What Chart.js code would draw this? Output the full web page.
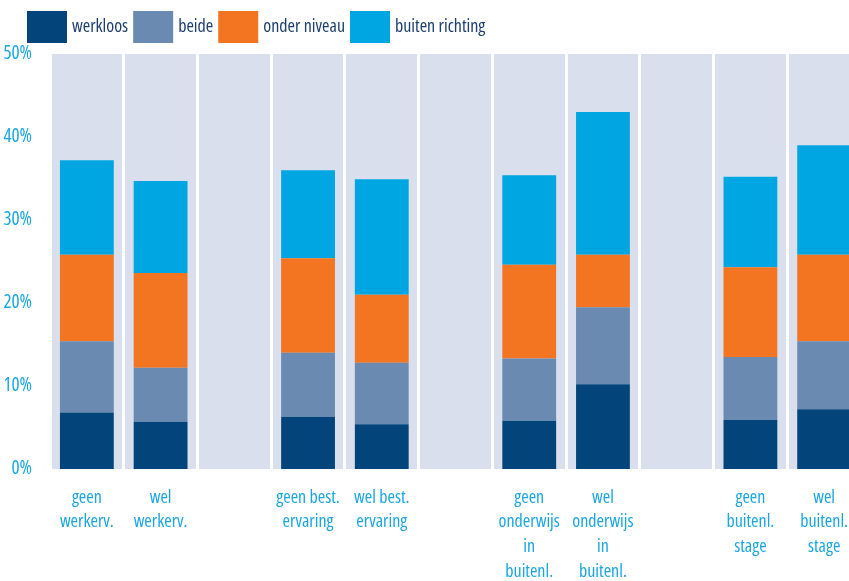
<!DOCTYPE html>
<html>
<head>
<meta charset="utf-8">
<script src="https://cdn.jsdelivr.net/npm/chart.js"></script>
<style>
  html, body { margin: 0; padding: 0; background: #fff; overflow: hidden; }
  /* the last column runs past the right edge, so the canvas is wider than the frame */
  #wrap { width: 849px; height: 581px; overflow: hidden; }
</style>
</head>
<body>
<div id="wrap"><canvas id="myChart" width="861" height="581"></canvas></div>
<script>
// categories (empty strings are the gaps between groups)
const labels = [
  ['geen', 'werkerv.'], ['wel', 'werkerv.'], '',
  ['geen best.', 'ervaring'], ['wel best.', 'ervaring'], '',
  ['geen', 'onderwijs', 'in', 'buitenl.'], ['wel', 'onderwijs', 'in', 'buitenl.'], '',
  ['geen', 'buitenl.', 'stage'], ['wel', 'buitenl.', 'stage']
];

const werkloos       = [6.8, 5.7, null, 6.3, 5.4, null, 5.8, 10.2, null, 5.9, 7.2];
const beide          = [8.6, 6.5, null, 7.7, 7.4, null, 7.5, 9.3, null, 7.6, 8.2];
const onderNiveau    = [10.4, 11.4, null, 11.4, 8.2, null, 11.3, 6.3, null, 10.8, 10.4];
const buitenRichting = [11.4, 11.1, null, 10.6, 13.9, null, 10.8, 17.2, null, 10.9, 13.2];

const yTicks = [0, 10, 20, 30, 40, 50];

// condensed face of Open Sans; 'condensed' rides in the weight slot of the font string
const FAMILY = "'Open Sans', sans-serif";
const STRETCH = 'condensed';
const blueText = '#1ba6e0';

// plot background
const plotBg = {
  id: 'plotBg',
  beforeDraw(chart) {
    const { ctx, chartArea: a } = chart;
    ctx.save();
    ctx.fillStyle = '#d9dfec';
    ctx.fillRect(a.left, a.top, a.right - a.left, a.bottom - a.top);
    ctx.restore();
  }
};

// legend row along the top
const topLegend = {
  id: 'topLegend',
  afterDraw(chart) {
    const ctx = chart.ctx;
    ctx.save();
    ctx.font = STRETCH + ' 18px ' + FAMILY;
    ctx.textBaseline = 'middle';
    let x = 27;
    chart.data.datasets.forEach(ds => {
      ctx.fillStyle = ds.backgroundColor;
      ctx.fillRect(x, 11, 40, 32);
      x += 45;
      ctx.fillStyle = '#1d3f6e';
      ctx.fillText(ds.label, x, 27);
      x += ctx.measureText(ds.label).width + 5;
    });
    ctx.restore();
  }
};

new Chart(document.getElementById('myChart'), {
  type: 'bar',
  data: {
    labels: labels,
    datasets: [
      { label: 'werkloos', data: werkloos, backgroundColor: '#03457a' },
      { label: 'beide', data: beide, backgroundColor: '#6a8ab2' },
      { label: 'onder niveau', data: onderNiveau, backgroundColor: '#f37421' },
      { label: 'buiten richting', data: buitenRichting, backgroundColor: '#00a6e2' }
    ]
  },
  options: {
    responsive: false,
    animation: false,
    devicePixelRatio: 1,
    layout: { padding: { top: 54, right: 0, left: 0, bottom: 0 } },
    datasets: { bar: { categoryPercentage: 1, barPercentage: 0.73 } },
    plugins: {
      legend: { display: false },
      tooltip: { enabled: false }
    },
    scales: {
      x: {
        stacked: true,
        offset: true,
        grid: { offset: true, color: '#ffffff', lineWidth: 3, drawTicks: false },
        border: { display: false },
        ticks: {
          color: blueText,
          padding: 16,
          maxRotation: 0,
          autoSkip: false,
          font: { family: FAMILY, weight: STRETCH, size: 18, lineHeight: 1.38 }
        },
        afterFit(s) {
          s.height = 112;
          s.paddingLeft = 0;
          s.paddingRight = 0;
        }
      },
      y: {
        stacked: true,
        min: 0,
        max: 50,
        afterBuildTicks(s) { s.ticks = yTicks.map(v => ({ value: v })); },
        grid: { display: false },
        border: { display: false },
        ticks: {
          color: blueText,
          padding: 10,
          font: { family: FAMILY, weight: STRETCH, size: 19 },
          callback: v => v + '%'
        },
        afterFit(s) { s.width = 50; }
      }
    }
  },
  plugins: [plotBg, topLegend]
});
</script>
</body>
</html>
